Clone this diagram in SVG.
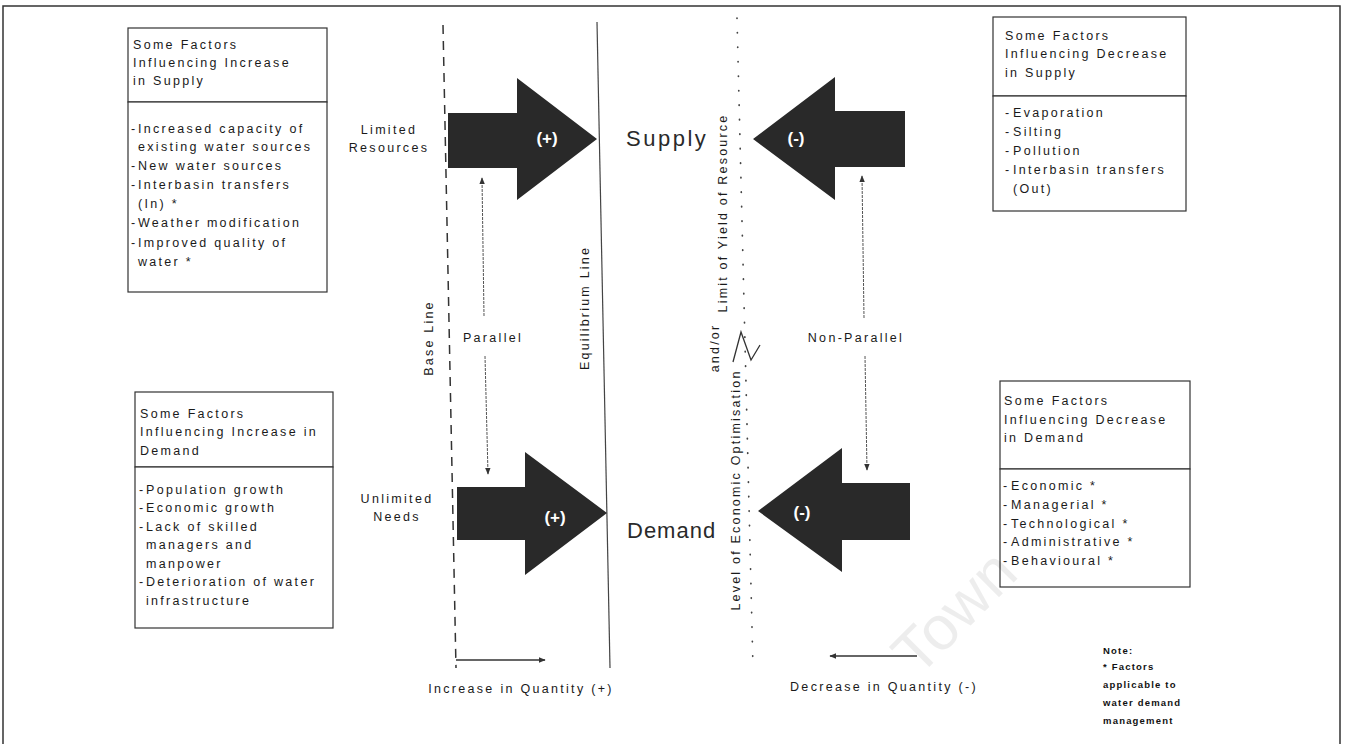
<svg xmlns="http://www.w3.org/2000/svg" width="1345" height="744" viewBox="0 0 1345 744">
<defs>
<style>
.t{font-family:"Liberation Sans",Arial,sans-serif;font-size:12.5px;letter-spacing:2.3px;fill:#1a1a1a}
.big{font-family:"Liberation Sans",Arial,sans-serif;font-size:22px;fill:#2a2a2a}
.v{font-family:"Liberation Sans",Arial,sans-serif;font-size:12.5px;letter-spacing:2.2px;fill:#1a1a1a;text-anchor:middle}
.sign{font-family:"Liberation Sans",Arial,sans-serif;font-size:17px;font-weight:bold;fill:#fff;text-anchor:middle}
.note{font-family:"Liberation Sans",Arial,sans-serif;font-size:9.5px;font-weight:bold;letter-spacing:1.2px;fill:#111}
.box{fill:#fff;stroke:#333;stroke-width:1.2}
.arrow{fill:#292929}
.thin{stroke:#555;stroke-width:1;fill:none;stroke-dasharray:3 1}
.solid{stroke:#333;stroke-width:1.5;fill:none}
</style>
<marker id="ah" viewBox="0 0 10 10" refX="9" refY="5" markerWidth="7" markerHeight="7" orient="auto" markerUnits="userSpaceOnUse">
<path d="M0,1 L10,5 L0,9 Z" fill="#333"/>
</marker>
</defs>
<rect width="1345" height="744" fill="#fff"/>
<path d="M3,744 V6 H1340 V744" fill="none" stroke="#333" stroke-width="1.5"/>

<g id="lines">
<line x1="443" y1="25" x2="456" y2="668" stroke="#333" stroke-width="1.5" stroke-dasharray="9 7"/>
<line x1="597" y1="22" x2="610" y2="668" stroke="#444" stroke-width="1.2"/>
<line x1="737" y1="18" x2="753" y2="668" stroke="#444" stroke-width="1.7" stroke-linecap="round" stroke-dasharray="0.5 14"/>
<path d="M733,362 L741,332 L751,360 L760,345" fill="none" stroke="#333" stroke-width="1.3"/>
<text class="v" transform="translate(428,338) rotate(-90)" y="4.5">Base Line</text>
<text class="v" transform="translate(584,308) rotate(-90)" y="4.5">Equilibrium Line</text>
<text class="v" transform="translate(722,213) rotate(-90)" y="4.5">Limit of Yield of Resource</text>
<text class="v" transform="translate(714,348) rotate(-90)" y="4.5">and/or</text>
<text class="v" transform="translate(735,490) rotate(-90)" y="4.5">Level of Economic Optimisation</text>
</g>

<g id="box-increase-supply">
<rect class="box" x="128" y="28" width="199" height="74"/>
<rect class="box" x="128" y="102" width="199" height="190"/>
<text class="t" x="133" y="49">Some Factors</text>
<text class="t" x="133" y="67">Influencing Increase</text>
<text class="t" x="133" y="85">in Supply</text>
<text class="t" y="133"><tspan x="131">-</tspan><tspan x="138">Increased capacity of</tspan></text>
<text class="t" x="138" y="151">existing water sources</text>
<text class="t" y="170"><tspan x="131">-</tspan><tspan x="138">New water sources</tspan></text>
<text class="t" y="189"><tspan x="131">-</tspan><tspan x="138">Interbasin transfers</tspan></text>
<text class="t" x="138" y="208">(In) *</text>
<text class="t" y="227"><tspan x="131">-</tspan><tspan x="138">Weather modification</tspan></text>
<text class="t" y="247"><tspan x="131">-</tspan><tspan x="138">Improved quality of</tspan></text>
<text class="t" x="138" y="266">water *</text>
</g>

<g id="box-increase-demand">
<rect class="box" x="135" y="392" width="198" height="75"/>
<rect class="box" x="135" y="467" width="198" height="161"/>
<text class="t" x="140" y="418">Some Factors</text>
<text class="t" x="140" y="436">Influencing Increase in</text>
<text class="t" x="140" y="455">Demand</text>
<text class="t" y="494"><tspan x="139">-</tspan><tspan x="146">Population growth</tspan></text>
<text class="t" y="512"><tspan x="139">-</tspan><tspan x="146">Economic growth</tspan></text>
<text class="t" y="531"><tspan x="139">-</tspan><tspan x="146">Lack of skilled</tspan></text>
<text class="t" x="146" y="549">managers and</text>
<text class="t" x="146" y="568">manpower</text>
<text class="t" y="586"><tspan x="139">-</tspan><tspan x="146">Deterioration of water</tspan></text>
<text class="t" x="146" y="605">infrastructure</text>
</g>

<g id="box-decrease-supply">
<rect class="box" x="993" y="17" width="193" height="79"/>
<rect class="box" x="993" y="96" width="193" height="115"/>
<text class="t" x="1005" y="40">Some Factors</text>
<text class="t" x="1005" y="58">Influencing Decrease</text>
<text class="t" x="1005" y="77">in Supply</text>
<text class="t" y="117"><tspan x="1005">-</tspan><tspan x="1013">Evaporation</tspan></text>
<text class="t" y="136"><tspan x="1005">-</tspan><tspan x="1013">Silting</tspan></text>
<text class="t" y="155"><tspan x="1005">-</tspan><tspan x="1013">Pollution</tspan></text>
<text class="t" y="174"><tspan x="1005">-</tspan><tspan x="1013">Interbasin transfers</tspan></text>
<text class="t" x="1013" y="193">(Out)</text>
</g>

<g id="box-decrease-demand">
<rect class="box" x="1000" y="381" width="190" height="88"/>
<rect class="box" x="1000" y="469" width="190" height="118"/>
<text class="t" x="1004" y="405">Some Factors</text>
<text class="t" x="1004" y="424">Influencing Decrease</text>
<text class="t" x="1004" y="442">in Demand</text>
<text class="t" y="490"><tspan x="1003">-</tspan><tspan x="1011">Economic *</tspan></text>
<text class="t" y="509"><tspan x="1003">-</tspan><tspan x="1011">Managerial *</tspan></text>
<text class="t" y="528"><tspan x="1003">-</tspan><tspan x="1011">Technological *</tspan></text>
<text class="t" y="546"><tspan x="1003">-</tspan><tspan x="1011">Administrative *</tspan></text>
<text class="t" y="565"><tspan x="1003">-</tspan><tspan x="1011">Behavioural *</tspan></text>
</g>

<g id="supply-increase">
<path class="arrow" d="M448,113 H517 V78 L597,139 L517,200 V168 H448 Z"/>
<text class="sign" x="547" y="144">(+)</text>
<text class="t" x="389" y="134" text-anchor="middle">Limited</text>
<text class="t" x="389" y="152" text-anchor="middle">Resources</text>
</g>
<g id="demand-increase">
<path class="arrow" d="M457,487 H525 V452 L607,513 L525,575 V540 H457 Z"/>
<text class="sign" x="555" y="523">(+)</text>
<text class="t" x="397" y="503" text-anchor="middle">Unlimited</text>
<text class="t" x="397" y="521" text-anchor="middle">Needs</text>
</g>
<g id="supply-decrease">
<path class="arrow" d="M905,111 H835 V77 L753,139 L835,200 V167 H905 Z"/>
<text class="sign" x="796" y="144">(-)</text>
</g>
<g id="demand-decrease">
<path class="arrow" d="M910,483 H842 V448 L758,511 L842,572 V540 H910 Z"/>
<text class="sign" x="802" y="518">(-)</text>
</g>
<g id="supply">
<text class="big" x="626" y="146" letter-spacing="2.5">Supply</text>
</g>
<g id="demand">
<text class="big" x="627" y="538" letter-spacing="1">Demand</text>
</g>

<g id="connectors">
<line class="thin" x1="484" y1="316" x2="482" y2="178" marker-end="url(#ah)"/>
<line class="thin" x1="485" y1="356" x2="488" y2="474" marker-end="url(#ah)"/>
<line class="thin" x1="864" y1="318" x2="862" y2="176" marker-end="url(#ah)"/>
<line class="thin" x1="865" y1="356" x2="867" y2="470" marker-end="url(#ah)"/>
<line class="solid" x1="456" y1="660" x2="545" y2="660" marker-end="url(#ah)"/>
<line class="solid" x1="917" y1="656" x2="830" y2="656" marker-end="url(#ah)"/>
</g>

<g id="labels">
<text class="t" x="493" y="342" text-anchor="middle">Parallel</text>
<text class="t" x="856" y="342" text-anchor="middle">Non-Parallel</text>
<text class="t" x="521" y="693" text-anchor="middle" font-size="13">Increase in Quantity (+)</text>
<text class="t" x="884" y="691" text-anchor="middle" font-size="13">Decrease in Quantity (-)</text>
</g>

<g id="note">
<text class="note" x="1103" y="654">Note:</text>
<text class="note" x="1103" y="670">* Factors</text>
<text class="note" x="1103" y="688">applicable to</text>
<text class="note" x="1103" y="706">water demand</text>
<text class="note" x="1103" y="724">management</text>
</g>

<text x="955" y="633" transform="rotate(-45 955 613)" font-family="Liberation Sans, Arial, sans-serif" font-size="62" fill="#000" fill-opacity="0.07" text-anchor="middle">Town</text>
</svg>
